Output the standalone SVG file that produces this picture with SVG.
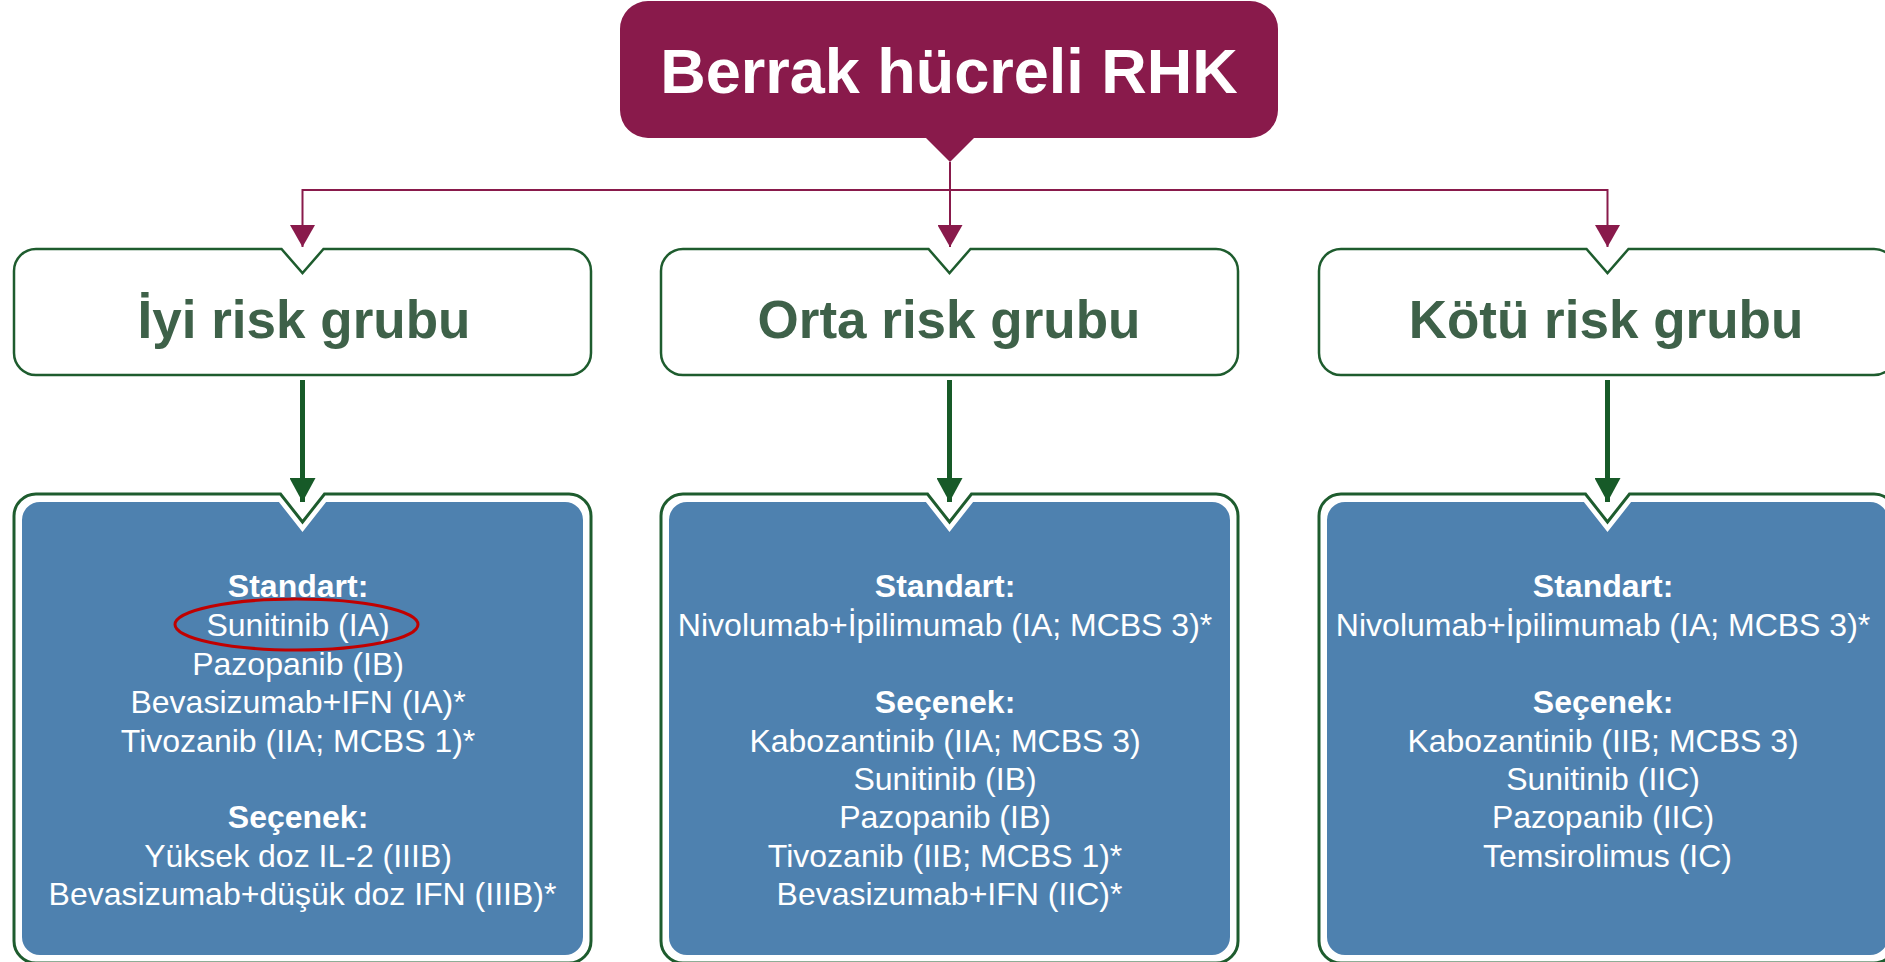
<svg xmlns="http://www.w3.org/2000/svg" width="1885" height="962" viewBox="0 0 1885 962">
  <style>
    .root-box { fill: #891A4B; }
    .root-text { font-family: "Liberation Sans", Arial, sans-serif; font-weight: bold; font-size: 63px; fill: #ffffff; text-anchor: middle; }
    .risk-box { fill: #ffffff; stroke: #1E5C2E; stroke-width: 2.5; }
    .risk-text { font-family: "Liberation Sans", Arial, sans-serif; font-weight: bold; font-size: 53px; fill: #3E6149; text-anchor: middle; }
    .plan-outer { fill: #ffffff; stroke: #1E5C2E; stroke-width: 3; }
    .plan-inner { fill: #4E81AF; }
    .plan-text { font-family: "Liberation Sans", Arial, sans-serif; font-size: 32px; fill: #ffffff; text-anchor: middle; }
    .plan-head { font-weight: bold; }
    .link-main { fill: none; stroke: #891A4B; stroke-width: 2; }
    .link-down { fill: none; stroke: #175A28; stroke-width: 5; }
    .mark { fill: none; stroke: #C00000; stroke-width: 3; }
  </style>
  <defs>
    <!-- risk group card: rounded box with a V notch at top centre -->
    <path id="riskShape" d="M 22 0 H 267.5 L 288.5 24 L 309.5 0 H 555 A 22 22 0 0 1 577 22 V 104 A 22 22 0 0 1 555 126 H 22 A 22 22 0 0 1 0 104 V 22 A 22 22 0 0 1 22 0 Z"/>
    <!-- treatment card: green outline with blue panel inside -->
    <path id="planOuter" d="M 22 0 H 266.5 L 288.5 28 L 310.5 0 H 555 A 22 22 0 0 1 577 22 V 447 A 22 22 0 0 1 555 469 H 22 A 22 22 0 0 1 0 447 V 22 A 22 22 0 0 1 22 0 Z"/>
    <path id="planInner" d="M 26 8 H 264.9 L 288.5 38 L 312.1 8 H 551 A 18 18 0 0 1 569 26 V 443 A 18 18 0 0 1 551 461 H 26 A 18 18 0 0 1 8 443 V 26 A 18 18 0 0 1 26 8 Z"/>
    <marker id="headMain" viewBox="0 0 22 25" refX="22" refY="12.5" markerWidth="22" markerHeight="25" markerUnits="userSpaceOnUse" orient="auto">
      <path d="M 0 0 L 22 12.5 L 0 25 Z" fill="#891A4B"/>
    </marker>
    <marker id="headDown" viewBox="0 0 24 26" refX="24" refY="13" markerWidth="24" markerHeight="26" markerUnits="userSpaceOnUse" orient="auto">
      <path d="M 0 0 L 24 13 L 0 26 Z" fill="#175A28"/>
    </marker>
  </defs>

  <!-- root node -->
  <g id="node-root">
    <path class="root-box" d="M 648 1 H 1250 A 28 28 0 0 1 1278 29 V 110 A 28 28 0 0 1 1250 138 H 974 L 950 162 L 926 138 H 648 A 28 28 0 0 1 620 110 V 29 A 28 28 0 0 1 648 1 Z"/>
    <text class="root-text" x="949" y="93">Berrak hücreli RHK</text>
  </g>

  <!-- risk group nodes -->
  <g id="node-risk-good" transform="translate(14,249)">
    <use href="#riskShape" class="risk-box"/>
    <text class="risk-text" x="290" y="89">İyi risk grubu</text>
  </g>
  <g id="node-risk-mid" transform="translate(661,249)">
    <use href="#riskShape" class="risk-box"/>
    <text class="risk-text" x="288" y="89">Orta risk grubu</text>
  </g>
  <g id="node-risk-poor" transform="translate(1319,249)">
    <use href="#riskShape" class="risk-box"/>
    <text class="risk-text" x="287" y="89">Kötü risk grubu</text>
  </g>

  <!-- treatment nodes -->
  <g id="node-plan-good" transform="translate(14,494)">
    <use href="#planOuter" class="plan-outer"/>
    <use href="#planInner" class="plan-inner"/>
    <text class="plan-text" x="288.5">
      <tspan class="plan-head" x="288.5" y="103">Standart:</tspan>
      <tspan x="288.5" y="142.4">Sunitinib (IA)</tspan>
      <tspan x="288.5" y="180.8">Pazopanib (IB)</tspan>
      <tspan x="288.5" y="219.2">Bevasizumab+IFN (IA)*</tspan>
      <tspan x="288.5" y="257.6">Tivozanib (IIA; MCBS 1)*</tspan>
      <tspan class="plan-head" x="288.5" y="334.4">Seçenek:</tspan>
      <tspan x="288.5" y="372.8">Yüksek doz IL-2 (IIIB)</tspan>
      <tspan x="288.5" y="411.2">Bevasizumab+düşük doz IFN (IIIB)*</tspan>
    </text>
    <ellipse class="mark" cx="282.5" cy="130.5" rx="121.5" ry="25.5"/>
  </g>
  <g id="node-plan-mid" transform="translate(661,494)">
    <use href="#planOuter" class="plan-outer"/>
    <use href="#planInner" class="plan-inner"/>
    <text class="plan-text" x="288.5">
      <tspan class="plan-head" x="288.5" y="103">Standart:</tspan>
      <tspan x="288.5" y="142.4">Nivolumab+İpilimumab (IA; MCBS 3)*</tspan>
      <tspan class="plan-head" x="288.5" y="219.2">Seçenek:</tspan>
      <tspan x="288.5" y="257.6">Kabozantinib (IIA; MCBS 3)</tspan>
      <tspan x="288.5" y="296">Sunitinib (IB)</tspan>
      <tspan x="288.5" y="334.4">Pazopanib (IB)</tspan>
      <tspan x="288.5" y="372.8">Tivozanib (IIB; MCBS 1)*</tspan>
      <tspan x="288.5" y="411.2">Bevasizumab+IFN (IIC)*</tspan>
    </text>
  </g>
  <g id="node-plan-poor" transform="translate(1319,494)">
    <use href="#planOuter" class="plan-outer"/>
    <use href="#planInner" class="plan-inner"/>
    <text class="plan-text" x="288.5">
      <tspan class="plan-head" x="288.5" y="103">Standart:</tspan>
      <tspan x="288.5" y="142.4">Nivolumab+İpilimumab (IA; MCBS 3)*</tspan>
      <tspan class="plan-head" x="288.5" y="219.2">Seçenek:</tspan>
      <tspan x="288.5" y="257.6">Kabozantinib (IIB; MCBS 3)</tspan>
      <tspan x="288.5" y="296">Sunitinib (IIC)</tspan>
      <tspan x="288.5" y="334.4">Pazopanib (IIC)</tspan>
      <tspan x="288.5" y="372.8">Temsirolimus (IC)</tspan>
    </text>
  </g>

  <!-- connectors -->
  <g id="connectors">
    <path class="link-main" d="M 302.5 190 H 1607.5"/>
    <path class="link-main" d="M 950 162 V 247" marker-end="url(#headMain)"/>
    <path class="link-main" d="M 302.5 189 V 247" marker-end="url(#headMain)"/>
    <path class="link-main" d="M 1607.5 189 V 247" marker-end="url(#headMain)"/>
    <path class="link-down" d="M 302.5 380 V 502" marker-end="url(#headDown)"/>
    <path class="link-down" d="M 949.5 380 V 502" marker-end="url(#headDown)"/>
    <path class="link-down" d="M 1607.5 380 V 502" marker-end="url(#headDown)"/>
  </g>
</svg>
